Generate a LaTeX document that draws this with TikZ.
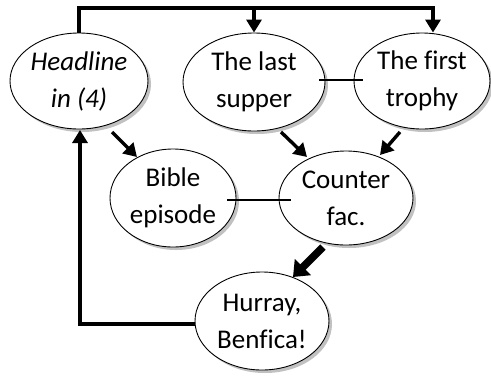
\documentclass[tikz,border=0pt]{standalone}
\usepackage{fontspec}
\setmainfont{Carlito}[Ligatures=NoCommon]
\usetikzlibrary{shapes.geometric,shadows,arrows.meta}
\tikzset{
  bub/.style={ellipse, draw=black, line width=0.9pt, fill=white, inner sep=0pt,
    align=center, font=\fontsize{27}{37}\selectfont,
    drop shadow={shadow xshift=3pt, shadow yshift=-3pt, fill=black!35, opacity=0.7}},
  arr/.style={line width=3.4pt, -{Triangle[length=13pt,width=15pt]}},
  bigarr/.style={line width=7.5pt, -{Triangle[length=14pt,width=22pt]}},
  link/.style={line width=2pt}
}
\begin{document}
\begin{tikzpicture}[x=1pt,y=-1pt]
\useasboundingbox (0,0) rectangle (491,376);
\node[bub, minimum width=138pt, minimum height=96pt] (hl) at (79,81) {\itshape Headline\\\itshape in (4)};
\node[bub, minimum width=142pt, minimum height=98pt] (ls) at (254,82) {The last\\supper};
\node[bub, minimum width=136pt, minimum height=96pt] (ft) at (422,81) {The first\\trophy};
\node[bub, minimum width=126pt, minimum height=98pt] (be) at (173,198) {Bible\\episode};
\node[bub, minimum width=134pt, minimum height=94pt] (cf) at (346,198) {Counter\\fac.};
\node[bub, minimum width=134pt, minimum height=98pt] (hb) at (262,321) {Hurray,\\Benfica!};
% top bracket
\coordinate (tl) at (78,8);
\draw[line width=3.4pt] (hl.north) -- (hl.north |- tl) -- (tl -| ls.north);
\draw[arr] (hl.north |- tl) -| ([xshift=11pt]ft.north);
\draw[arr] (ls.north |- tl) -- (ls.north);
% links
\draw[link] ([xshift=-6pt,yshift=2pt]ls.east) -- ([xshift=9pt,yshift=1pt]ft.west);
\draw[link] ([xshift=-9pt,yshift=-2pt]be.east) -- ([xshift=12pt,yshift=-2pt]cf.west);
% arrows
\draw[arr] ([shift={(33,51)}]hl.center) -- ([shift={(-36,-41)}]be.center);
\draw[arr] ([shift={(27,50)}]ls.center) -- ([shift={(-39,-41)}]cf.center);
\draw[arr] ([shift={(-22,51)}]ft.center) -- ([shift={(34,-43)}]cf.center);
\draw[bigarr] ([shift={(-23,49)}]cf.center) -- ([shift={(31,-44)}]hb.center);
\draw[arr] ([yshift=-3pt]hb.west) -| ([shift={(1,49)}]hl.center);
\end{tikzpicture}
\end{document}
